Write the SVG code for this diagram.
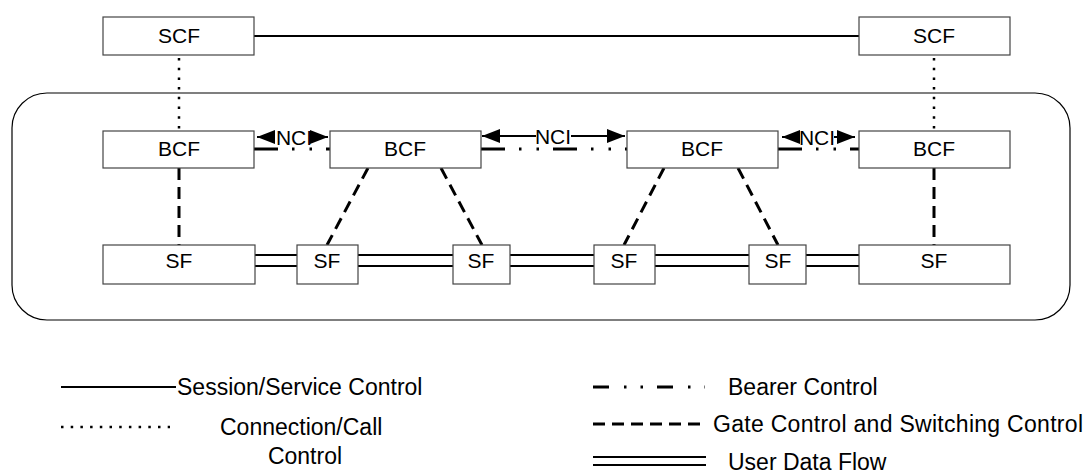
<svg xmlns="http://www.w3.org/2000/svg" width="1087" height="476" viewBox="0 0 1087 476">
<style>
.box{fill:#fff;stroke:#444;stroke-width:1.2}
.t{font-family:"Liberation Sans",Arial,sans-serif;font-size:21px;fill:#000;text-anchor:middle}
.lg{font-family:"Liberation Sans",Arial,sans-serif;font-size:23px;fill:#000}
.solid{stroke:#000;stroke-width:2;fill:none}
.dot{stroke:#000;stroke-width:2.5;stroke-dasharray:2.5 7.2;fill:none}
.gate{stroke:#000;stroke-width:3;stroke-dasharray:12 7;fill:none}
.bearer{stroke:#000;stroke-width:3;stroke-dasharray:24 14 2.5 15 2.5 14;fill:none}
.udf{stroke:#000;stroke-width:2;fill:none}
.arr{stroke:#000;stroke-width:2;fill:none}
</style>
<defs>
<marker id="ah" markerUnits="userSpaceOnUse" markerWidth="18" markerHeight="16" refX="18" refY="8" orient="auto-start-reverse">
<path d="M0,1 L18,8 L0,15 Z" fill="#000"/>
</marker>
</defs>
<rect id="domain" x="12" y="93" width="1058" height="227" rx="35" ry="35" fill="none" stroke="#000" stroke-width="1.2"/>
<g id="connectors">
<line class="solid" x1="254" y1="36" x2="859" y2="36"/>
<line class="dot" x1="179" y1="58" x2="179" y2="131"/>
<line class="dot" x1="934" y1="58" x2="934" y2="131"/>
<line class="bearer" x1="254" y1="149" x2="330" y2="149"/>
<line class="bearer" x1="481" y1="149" x2="627" y2="149"/>
<line class="bearer" x1="778" y1="149" x2="859" y2="149"/>
<line class="gate" x1="179" y1="168" x2="179" y2="245"/>
<line class="gate" x1="368" y1="168" x2="327" y2="245"/>
<line class="gate" x1="441" y1="168" x2="482" y2="245"/>
<line class="gate" x1="664" y1="168" x2="624" y2="245"/>
<line class="gate" x1="738" y1="168" x2="778" y2="245"/>
<line class="gate" x1="934" y1="168" x2="934" y2="245"/>
<g id="udf">
<path class="udf" d="M255,255H297M255,266H297M358,255H453M358,266H453M510,255H594M510,266H594M655,255H749M655,266H749M806,255H859M806,266H859"/>
</g>
<g id="nci1">
<line class="arr" x1="275" y1="137" x2="257" y2="137" marker-end="url(#ah)"/>
<line class="arr" x1="310" y1="137" x2="328" y2="137" marker-end="url(#ah)"/>
<text class="t" x="294" y="145" font-size="20">NCI</text>
</g>
<g id="nci2">
<line class="arr" x1="536" y1="136" x2="482" y2="136" marker-end="url(#ah)"/>
<line class="arr" x1="571" y1="136" x2="625" y2="136" marker-end="url(#ah)"/>
<text class="t" x="553" y="144" font-size="20">NCI</text>
</g>
<g id="nci3">
<line class="arr" x1="800" y1="137" x2="782" y2="137" marker-end="url(#ah)"/>
<line class="arr" x1="834" y1="137" x2="855" y2="137" marker-end="url(#ah)"/>
<text class="t" x="817" y="145" font-size="20">NCI</text>
</g>
</g>
<g id="scf1"><rect class="box" x="103" y="17" width="151" height="38"/><text class="t" x="179" y="43">SCF</text></g>
<g id="scf2"><rect class="box" x="859" y="17" width="151" height="38"/><text class="t" x="934" y="43">SCF</text></g>
<g id="bcf1"><rect class="box" x="103" y="131" width="151" height="37"/><text class="t" x="179" y="156">BCF</text></g>
<g id="bcf2"><rect class="box" x="330" y="131" width="151" height="37"/><text class="t" x="405" y="156">BCF</text></g>
<g id="bcf3"><rect class="box" x="627" y="131" width="151" height="37"/><text class="t" x="702" y="156">BCF</text></g>
<g id="bcf4"><rect class="box" x="859" y="131" width="151" height="37"/><text class="t" x="934" y="156">BCF</text></g>
<g id="sf1"><rect class="box" x="103" y="245" width="152" height="39"/><text class="t" x="179" y="268">SF</text></g>
<g id="sf2"><rect class="box" x="297" y="245" width="61" height="39"/><text class="t" x="327" y="268">SF</text></g>
<g id="sf3"><rect class="box" x="453" y="245" width="57" height="39"/><text class="t" x="481" y="268">SF</text></g>
<g id="sf4"><rect class="box" x="594" y="245" width="61" height="39"/><text class="t" x="624" y="268">SF</text></g>
<g id="sf5"><rect class="box" x="749" y="245" width="57" height="39"/><text class="t" x="778" y="268">SF</text></g>
<g id="sf6"><rect class="box" x="859" y="245" width="151" height="39"/><text class="t" x="934" y="268">SF</text></g>
<g id="legend">
<line class="solid" x1="61" y1="387" x2="176" y2="387"/>
<text class="lg" x="177" y="395">Session/Service Control</text>
<line class="dot" x1="61" y1="427" x2="170" y2="427"/>
<text class="lg" x="220" y="435">Connection/Call</text>
<text class="lg" x="305" y="464" text-anchor="middle">Control</text>
<line class="bearer" x1="593" y1="387" x2="705" y2="387" style="stroke-dasharray:16 15 2.5 14 2.5 14"/>
<text class="lg" x="728" y="395">Bearer Control</text>
<line class="gate" x1="593" y1="424" x2="700" y2="424"/>
<text class="lg" x="713" y="432" textLength="370">Gate Control and Switching Control</text>
<path class="udf" d="M593,457H706M593,465H706"/>
<text class="lg" x="728" y="470">User Data Flow</text>
</g>
</svg>
